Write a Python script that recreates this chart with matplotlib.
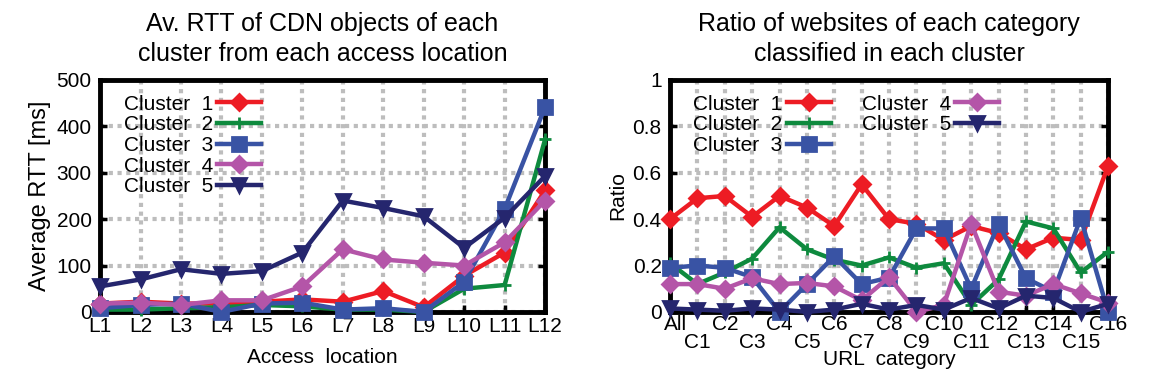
import matplotlib
matplotlib.use('Agg')
import matplotlib.pyplot as plt
import matplotlib.transforms as mtransforms

plt.rcParams['font.family'] = ['Liberation Sans', 'DejaVu Sans']

# ---------------- data ----------------
locations = ['L1', 'L2', 'L3', 'L4', 'L5', 'L6', 'L7', 'L8', 'L9', 'L10', 'L11', 'L12']
rtt_cluster1 = [18, 22, 18, 18, 22, 27, 22, 45, 10, 78, 128, 262]
rtt_cluster2 = [5, 5, 8, 10, 15, 12, 5, 5, 0, 50, 58, 372]
rtt_cluster3 = [8, 15, 18, 0, 18, 20, 5, 8, 0, 65, 222, 442]
rtt_cluster4 = [18, 20, 15, 25, 25, 55, 135, 113, 106, 100, 150, 240]
rtt_cluster5 = [55, 70, 92, 82, 88, 128, 240, 224, 206, 138, 203, 293]

categories = ['All', 'C1', 'C2', 'C3', 'C4', 'C5', 'C6', 'C7', 'C8',
              'C9', 'C10', 'C11', 'C12', 'C13', 'C14', 'C15', 'C16']
ratio_cluster1 = [0.40, 0.49, 0.50, 0.41, 0.50, 0.45, 0.37, 0.55, 0.40,
                  0.38, 0.31, 0.37, 0.34, 0.27, 0.32, 0.31, 0.63]
ratio_cluster2 = [0.21, 0.12, 0.17, 0.23, 0.365, 0.27, 0.225, 0.20, 0.235,
                  0.19, 0.21, 0.03, 0.14, 0.39, 0.36, 0.17, 0.26]
ratio_cluster3 = [0.19, 0.20, 0.19, 0.15, 0.0, 0.12, 0.24, 0.12, 0.148,
                  0.36, 0.36, 0.10, 0.38, 0.145, 0.087, 0.405, 0.0]
ratio_cluster4 = [0.12, 0.12, 0.10, 0.145, 0.12, 0.125, 0.11, 0.05, 0.15,
                  0.0, 0.03, 0.38, 0.087, 0.07, 0.12, 0.08, 0.04]
ratio_cluster5 = [0.015, 0.01, 0.005, 0.015, 0.01, 0.0, 0.01, 0.035, 0.01,
                  0.03, 0.01, 0.06, 0.015, 0.07, 0.06, 0.0, 0.035]

cluster_names = ['Cluster  1', 'Cluster  2', 'Cluster  3', 'Cluster  4', 'Cluster  5']
colors = ['#ED1C24', '#0E8A3E', '#3953A4', '#B455A8', '#25266E']
markers = ['D', '+', 's', 'D', 'v']
msizes = [8, 9, 10, 8, 10]

rtt_series = [rtt_cluster1, rtt_cluster2, rtt_cluster3, rtt_cluster4, rtt_cluster5]
ratio_series = [ratio_cluster1, ratio_cluster2, ratio_cluster3, ratio_cluster4, ratio_cluster5]

# ---------------- figure ----------------
fig = plt.figure(figsize=(11.5, 3.79), dpi=100)
ax1 = fig.add_axes([0.087, 0.177, 0.387, 0.612])
ax2 = fig.add_axes([0.5826, 0.177, 0.381, 0.612])


def style_axes(ax):
    ax.set_axisbelow(True)
    ax.grid(True, color='#bdbdbd', linestyle=(0, (1, 1.1)), linewidth=3.0)
    for sp in ax.spines.values():
        sp.set_linewidth(3.5)
        sp.set_color('black')
    ax.tick_params(axis='both', direction='in', length=5, width=2.5,
                   labelsize=15, colors='black')
    ax.tick_params(axis='y', right=True, pad=6)


# left chart
xl = list(range(1, len(locations) + 1))
for vals, name, c, m, ms in zip(rtt_series, cluster_names, colors, markers, msizes):
    ax1.plot(xl, vals, color=c, lw=3.2, marker=m, ms=ms, mew=2,
             label=name, clip_on=False, zorder=3)
style_axes(ax1)
ax1.set_xlim(1, 12)
ax1.set_ylim(0, 500)
ax1.set_xticks(xl)
ax1.set_xticklabels(locations)
ax1.set_yticks([0, 100, 200, 300, 400, 500])
ax1.tick_params(axis='x', pad=4)
ax1.set_ylabel('Average RTT [ms]', fontsize=17, labelpad=4)
ax1.set_xlabel('Access  location', fontsize=15, labelpad=8)
ax1.set_title('Av. RTT of CDN objects of each\ncluster from each access location',
              fontsize=18, pad=14, linespacing=1.3)
ax1.legend(loc='upper left', frameon=False, fontsize=15, markerfirst=False,
           handlelength=2.1, labelspacing=0.08, handletextpad=0.2,
           borderaxespad=0.3, bbox_to_anchor=(0.02, 1.0))

# right chart
xr = list(range(len(categories)))
for vals, name, c, m, ms in zip(ratio_series, cluster_names, colors, markers, msizes):
    ax2.plot(xr, vals, color=c, lw=3.2, marker=m, ms=ms, mew=2,
             label=name, clip_on=False, zorder=3)
style_axes(ax2)
ax2.set_xlim(0, 16)
ax2.set_ylim(0, 1)
ax2.set_xticks(xr[0::2])
ax2.set_xticklabels(categories[0::2])
ax2.set_xticks(xr[1::2], minor=True)
ax2.set_xticklabels(categories[1::2], minor=True)
ax2.tick_params(axis='x', which='major', pad=2)
ax2.tick_params(axis='x', which='minor', direction='in', length=5, width=2.5,
                labelsize=15, pad=15)
ax2.grid(True, which='minor', axis='x', color='#bdbdbd',
         linestyle=(0, (1, 1.1)), linewidth=3.0)
ax2.set_yticks([0, 0.2, 0.4, 0.6, 0.8, 1])
ax2.set_yticklabels(['0', '0.2', '0.4', '0.6', '0.8', '1'])
ax2.set_ylabel('Ratio', fontsize=15, labelpad=4)
ax2.set_xlabel('URL  category', fontsize=15)
ax2.xaxis.set_label_coords(0.5, -0.165)
ax2.set_title('Ratio of websites of each category\nclassified in each cluster',
              fontsize=18, pad=14, linespacing=1.3)
ax2.legend(loc='upper left', frameon=False, fontsize=15, markerfirst=False, ncol=2,
           handlelength=2.1, labelspacing=0.08, handletextpad=0.2, columnspacing=1.5,
           borderaxespad=0.3, bbox_to_anchor=(0.02, 1.0))

# nudge the first category label slightly right so it clears the "0" label
first_lab = ax2.get_xticklabels()[0]
first_lab.set_transform(first_lab.get_transform() +
                        mtransforms.ScaledTranslation(6 / 100, 0, fig.dpi_scale_trans))

fig.savefig('out.png', dpi=100)
